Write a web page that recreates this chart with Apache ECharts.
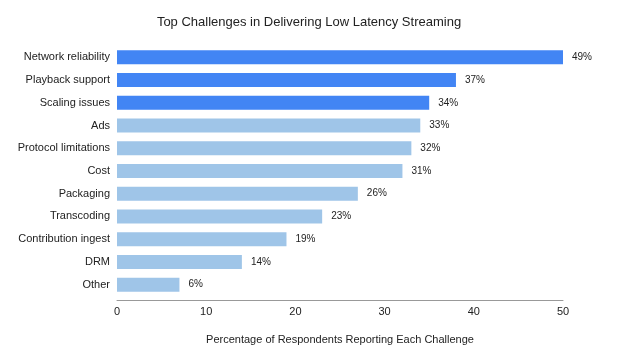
<!DOCTYPE html>
<html>
<head>
<meta charset="utf-8">
<script src="https://cdn.jsdelivr.net/npm/echarts@6/dist/echarts.min.js"></script>
<style>html,body{margin:0;padding:0;background:#fff}#c{width:618px;height:363px}</style>
</head>
<body>
<div id="c"></div>
<script>
var categories = ["Network reliability","Playback support","Scaling issues","Ads","Protocol limitations","Cost","Packaging","Transcoding","Contribution ingest","DRM","Other"];
var barValues = [50, 38, 35, 34, 33, 32, 27, 23, 19, 14, 7];
var labelTexts = ["49%","37%","34%","33%","32%","31%","26%","23%","19%","14%","6%"];
var highlightCount = 3;
var xTicks = [0, 10, 20, 30, 40, 50];

var chart = echarts.init(document.getElementById('c'), null, {renderer: 'canvas'});
var data = barValues.map(function (v, i) {
  return {value: v, itemStyle: {color: i < highlightCount ? '#4285f4' : '#9fc5e8'}};
});
chart.setOption({
  animation: false,
  title: {
    text: 'Top Challenges in Delivering Low Latency Streaming',
    left: 'center', top: 11,
    textStyle: {fontFamily: 'Liberation Sans, Arial', fontSize: 13, fontWeight: 'normal', color: '#222'}
  },
  grid: {left: 117, right: 55, top: 46, height: 250, containLabel: false},
  xAxis: {
    type: 'value', min: xTicks[0], max: xTicks[xTicks.length - 1], interval: 10,
    offset: 4,
    name: 'Percentage of Respondents Reporting Each Challenge',
    nameLocation: 'middle', nameGap: 34,
    nameTextStyle: {fontFamily: 'Liberation Sans, Arial', fontSize: 11, color: '#222'},
    axisLine: {show: true, lineStyle: {color: '#999', width: 1}},
    axisTick: {show: false},
    splitLine: {show: false},
    axisLabel: {margin: 6, fontFamily: 'Liberation Sans, Arial', fontSize: 11, color: '#222'}
  },
  yAxis: {
    type: 'category', data: categories, inverse: true,
    axisLine: {show: false}, axisTick: {show: false},
    axisLabel: {margin: 7, fontFamily: 'Liberation Sans, Arial', fontSize: 11, color: '#222'}
  },
  series: [{
    type: 'bar', data: data, barWidth: 14,
    label: {
      show: true, position: 'right', distance: 9,
      fontFamily: 'Liberation Sans, Arial', fontSize: 10, color: '#222',
      formatter: function (p) { return labelTexts[p.dataIndex]; }
    }
  }]
});
</script>
</body>
</html>
